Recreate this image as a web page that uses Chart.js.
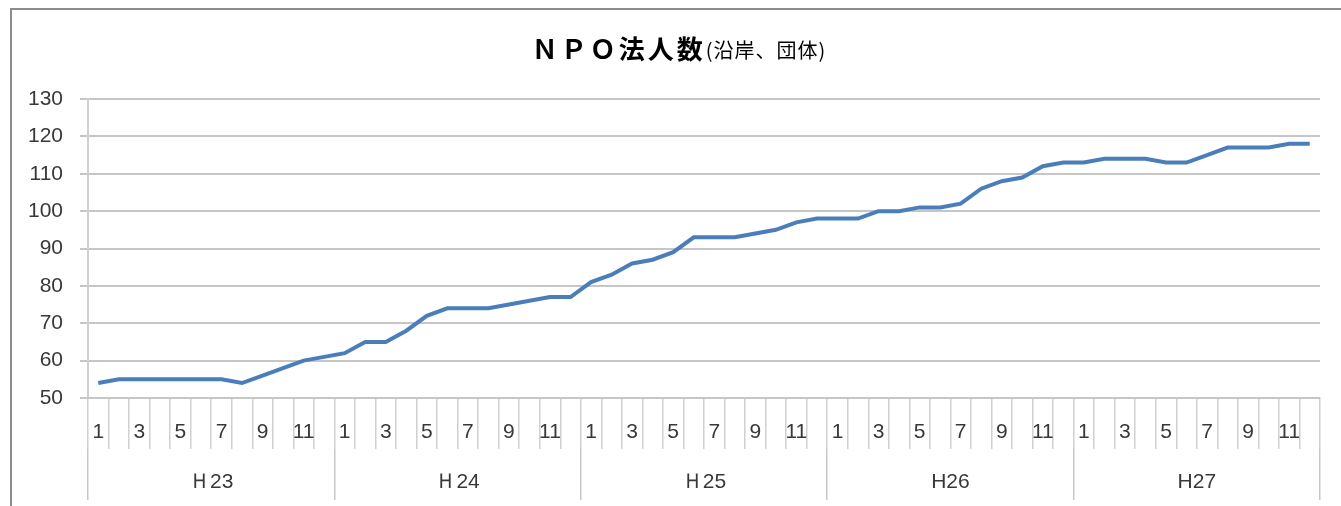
<!DOCTYPE html>
<html>
<head>
<meta charset="utf-8">
<script src="https://cdn.jsdelivr.net/npm/chart.js@4/dist/chart.umd.min.js"></script>
<style>
  body { margin: 0; background: #fff; }
  #wrap { position: relative; width: 1341px; height: 506px; overflow: hidden; background: #fff; }
  #frame { position: absolute; left: 10px; top: 8px; width: 1400px; height: 600px; border: 2px solid #8c8c8c; box-sizing: border-box; }
  #chart { position: absolute; left: 0; top: 0; }
</style>
</head>
<body>
<div id="wrap">
  <div id="frame"></div>
  <canvas id="chart" width="1341" height="506"></canvas>
</div>
<script>
// 年度と月
const years = ['Ｈ23', 'Ｈ24', 'Ｈ25', 'H26', 'H27'];
const months = ['1', '2', '3', '4', '5', '6', '7', '8', '9', '10', '11', '12'];

// 各年度の月別 NPO法人数
const h23 = [54, 55, 55, 55, 55, 55, 55, 54, 56, 58, 60, 61];
const h24 = [62, 65, 65, 68, 72, 74, 74, 74, 75, 76, 77, 77];
const h25 = [81, 83, 86, 87, 89, 93, 93, 93, 94, 95, 97, 98];
const h26 = [98, 98, 100, 100, 101, 101, 102, 106, 108, 109, 112, 113];
const h27 = [113, 114, 114, 114, 113, 113, 115, 117, 117, 117, 118, 118];

const yTicks = [50, 60, 70, 80, 90, 100, 110, 120, 130];

const titleMain = 'ＮＰＯ法人数';
const titleSub = '(沿岸、団体)';

// 軸ラベルを作成
const monthLabels = [];
years.forEach(() => months.forEach(m => monthLabels.push(m)));
const values = [].concat(h23, h24, h25, h26, h27);

const tickFont = { family: '"Liberation Sans", Arial, sans-serif', size: 21 };
const textColor = '#383838';
const lineGray = '#c6c6c6';

// タイトル（太字部分と括弧部分でサイズが違う）
const titlePlugin = {
    id: 'mixedTitle',
    afterDraw(chart) {
        const ctx = chart.ctx;
        ctx.save();
        const fMain = 'bold 26px "Noto Sans CJK JP", sans-serif';
        const fSub = '20px "Noto Sans CJK JP", sans-serif';
        ctx.letterSpacing = '3px';
        ctx.font = fMain;
        const w1 = ctx.measureText(titleMain).width;
        ctx.letterSpacing = '1px';
        ctx.font = fSub;
        const w2 = ctx.measureText(titleSub).width;
        const cx = 679;
        const x = cx - (w1 + w2) / 2;
        ctx.fillStyle = '#000';
        ctx.textBaseline = 'alphabetic';
        ctx.textAlign = 'left';
        ctx.letterSpacing = '3px';
        ctx.font = fMain;
        ctx.fillText(titleMain, x, 59);
        ctx.letterSpacing = '1px';
        ctx.font = fSub;
        ctx.fillText(titleSub, x + w1, 58);
        ctx.restore();
    }
};

new Chart(document.getElementById('chart').getContext('2d'), {
    type: 'line',
    data: {
        labels: monthLabels,
        datasets: [{
            label: 'NPO法人数',
            data: values,
            borderColor: '#4a7ebb',
            borderWidth: 4,
            pointRadius: 0,
            tension: 0,
            fill: false
        }]
    },
    options: {
        responsive: false,
        animation: false,
        events: [],
        layout: { padding: { top: 99, right: 21, bottom: 6, left: 0 } },
        plugins: {
            legend: { display: false },
            title: { display: false },
            tooltip: { enabled: false }
        },
        scales: {
            y: {
                min: yTicks[0],
                max: yTicks[yTicks.length - 1],
                afterFit(scale) { scale.width = 88; },
                afterBuildTicks(scale) { scale.ticks = yTicks.map(v => ({ value: v })); },
                ticks: { font: tickFont, color: textColor, padding: 17 },
                grid: { color: lineGray, lineWidth: 2, tickLength: 8 },
                border: { display: true, color: '#d0d0d0', width: 2 }
            },
            x: {
                weight: 0,
                offset: true,
                afterFit(scale) { scale.height = 51; },
                ticks: {
                    font: tickFont,
                    color: textColor,
                    autoSkip: false,
                    maxRotation: 0,
                    padding: -29,
                    callback(val, i) {
                        return i % 2 === 0 ? this.getLabelForValue(val) : '';
                    }
                },
                grid: { offset: true, drawOnChartArea: false, tickLength: 51, color: '#d0d0d0', lineWidth: 1.5 },
                border: { display: true, color: lineGray, width: 2 }
            },
            x2: {
                type: 'category',
                position: 'bottom',
                weight: 1,
                labels: years,
                offset: true,
                afterFit(scale) { scale.height = 51; },
                ticks: { font: tickFont, color: textColor, autoSkip: false, maxRotation: 0, padding: -30 },
                grid: { offset: true, drawOnChartArea: false, tickLength: 51, color: '#c8c8c8', lineWidth: 1.5 },
                border: { display: false }
            }
        }
    },
    plugins: [titlePlugin]
});
</script>
</body>
</html>
